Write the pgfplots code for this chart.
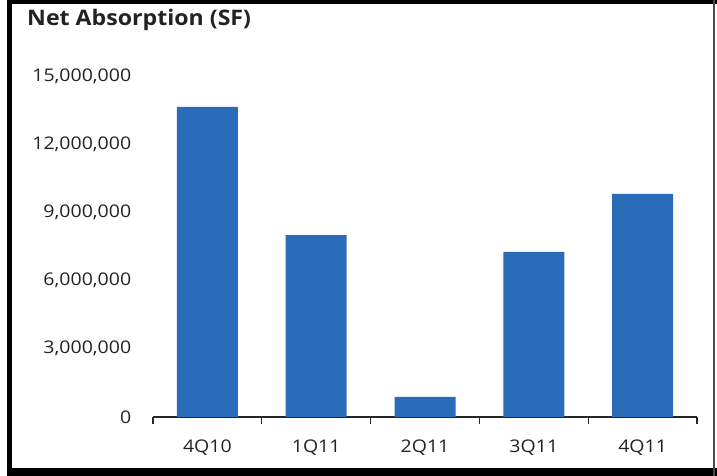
\documentclass[border=0pt]{standalone}
\usepackage{pgfplots}
\pgfplotsset{compat=1.18}
\usepackage{fontspec}
\setmainfont{Open Sans}[FakeStretch=1.08]
\newfontfamily\tickfont{Open Sans}[FakeStretch=1.12]
\definecolor{barblue}{HTML}{2B6CB8}
\definecolor{txt}{HTML}{222222}
\begin{document}
\begin{tikzpicture}[x=1bp,y=1bp]
\path[use as bounding box] (0,0) rectangle (717,476);
% frame
\fill[black] (7,0) rectangle (12,476);
\fill[black] (7,472) rectangle (717,476);
\fill[black] (7,0) rectangle (717,8);
\fill[black!70] (713,0) rectangle (715,476);
\node[anchor=west,inner sep=0pt,text=txt,font=\fontsize{21.5}{24}\selectfont\bfseries] at (27,456) {Net Absorption (SF)};
\begin{axis}[
  at={(153bp,59bp)}, anchor=origin,
  scale only axis, width=544bp, height=341bp,
  xmin=0.5, xmax=5.5, ymin=0, ymax=15000000,
  axis x line*=bottom,
  axis y line*=left,
  y axis line style={draw=none},
  x axis line style={line width=1.2bp, black!85},
  xtick={1,2,3,4,5},
  xticklabels={4Q10,1Q11,2Q11,3Q11,4Q11},
  major x tick style={draw=none},
  major y tick style={draw=none},
  minor xtick={0.5,1.5,2.5,3.5,4.5,5.5},
  minor tick length=7bp,
  tick align=outside,
  minor x tick style={line width=1.2bp, black!85},
  x tick label style={font=\tickfont\fontsize{17.5}{18}\selectfont, text=txt, yshift=-15bp},
  ytick={0,3000000,6000000,9000000,12000000,15000000},
  y tick label style={font=\tickfont\fontsize{17.5}{18}\selectfont, text=txt, anchor=east},
  yticklabel style={xshift=-14bp},
  scaled y ticks=false,
  /pgf/number format/.cd, fixed, 1000 sep={,}, assume math mode=true,
  /pgfplots/.cd,
  ybar, bar width=61bp,
  clip=false,
]
\addplot[fill=barblue, draw=none] coordinates {(1,13640000) (2,8000000) (3,880000) (4,7260000) (5,9810000)};
\end{axis}
\end{tikzpicture}
\end{document}
